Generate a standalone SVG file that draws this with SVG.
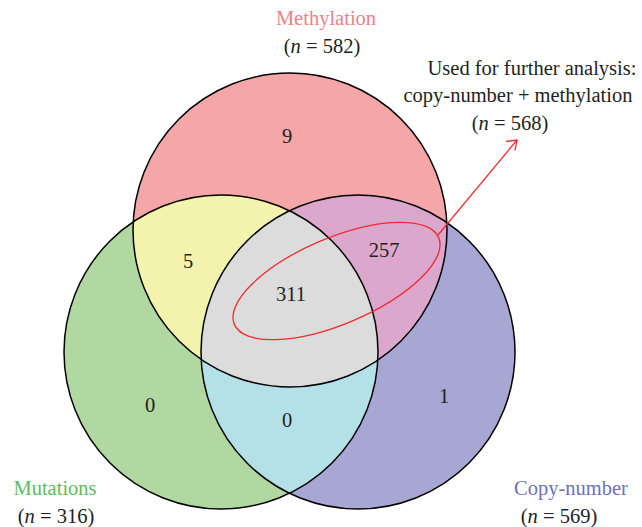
<svg xmlns="http://www.w3.org/2000/svg" width="642" height="527" viewBox="0 0 642 527">
<style>
text{font-family:"Liberation Serif","Times New Roman",serif;font-size:20.5px;fill:#231f20;text-anchor:middle}
.it{font-style:italic}
.outline{fill:none;stroke:#000;stroke-width:1.5}
.red{fill:none;stroke:#ee2a2f;stroke-width:1.3}
</style>
<defs>
<clipPath id="clipM"><circle cx="290" cy="230" r="157"/></clipPath>
<clipPath id="clipU"><circle cx="221" cy="352" r="157"/></clipPath>
</defs>
<rect width="642" height="527" fill="#fff"/>
<g id="regions">
<circle cx="290" cy="230" r="157" fill="#f5a6a8"/>
<circle cx="221" cy="352" r="157" fill="#b0d8a0"/>
<circle cx="358" cy="352" r="157" fill="#a8a6d3"/>
<circle cx="221" cy="352" r="157" fill="#f3f3ae" clip-path="url(#clipM)"/>
<circle cx="358" cy="352" r="157" fill="#dca7cc" clip-path="url(#clipM)"/>
<circle cx="358" cy="352" r="157" fill="#b3e1e7" clip-path="url(#clipU)"/>
<g clip-path="url(#clipU)"><circle cx="358" cy="352" r="157" fill="#dcdcdc" clip-path="url(#clipM)"/></g>
</g>
<g id="methylation">
<circle class="outline" cx="290" cy="230" r="157"/>
<text x="326" y="25" style="fill:#f07f88">Methylation</text>
<text x="322" y="53">(<tspan class="it">n</tspan> = 582)</text>
</g>
<g id="mutations">
<circle class="outline" cx="221" cy="352" r="157"/>
<text x="55" y="495" style="fill:#5ebd5a">Mutations</text>
<text x="56" y="523">(<tspan class="it">n</tspan> = 316)</text>
</g>
<g id="copy-number">
<circle class="outline" cx="358" cy="352" r="157"/>
<text x="571" y="495" style="fill:#6f6fbb">Copy-number</text>
<text x="559" y="523">(<tspan class="it">n</tspan> = 569)</text>
</g>
<g id="counts">
<text x="287" y="143">9</text>
<text x="188" y="268">5</text>
<text x="291" y="301">311</text>
<text x="384" y="257">257</text>
<text x="150" y="412">0</text>
<text x="287" y="427">0</text>
<text x="444" y="403">1</text>
</g>
<g id="further-analysis">
<text x="532" y="75">Used for further analysis:</text>
<text x="518" y="102">copy-number + methylation</text>
<text x="510" y="130">(<tspan class="it">n</tspan> = 568)</text>
</g>
<g id="connectors">
<ellipse class="red" cx="336.5" cy="281" rx="111" ry="43" transform="rotate(-23 336.5 281)"/>
<line class="red" x1="438" y1="235" x2="517" y2="140"/>
<polyline class="red" points="506,141.5 517,140 515,150.5"/>
</g>
</svg>
